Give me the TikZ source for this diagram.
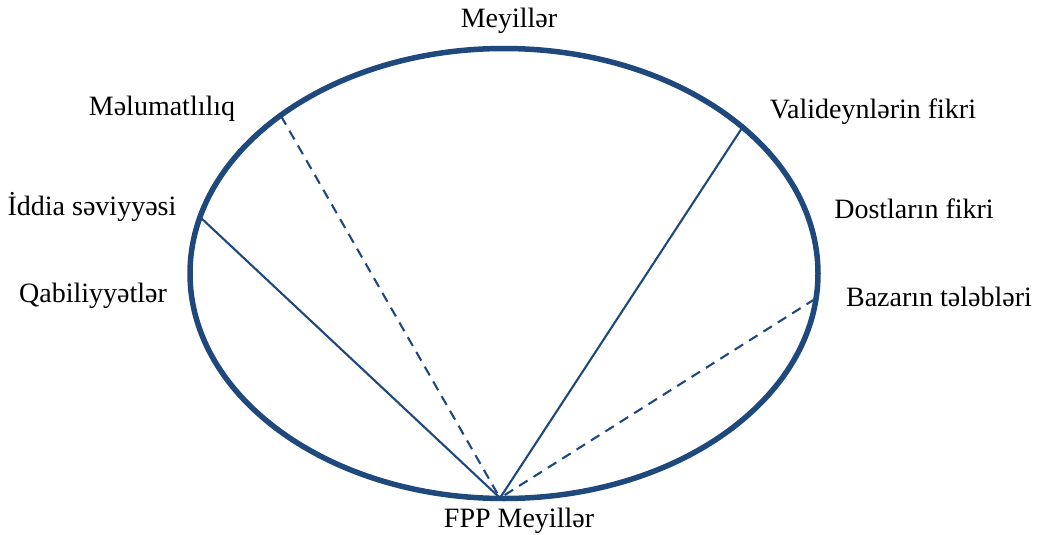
\documentclass[tikz,border=0pt]{standalone}
\usepackage{fontspec}
\setmainfont{Liberation Serif}
\definecolor{ellblue}{RGB}{31,73,125}
\begin{document}
\begin{tikzpicture}[x=1pt,y=-1pt,
  lbl/.style={inner sep=0pt, font=\fontsize{28}{32}\selectfont, text=black},
  ray/.style={draw=ellblue, line width=2.1pt},
  dray/.style={ray, dash pattern=on 10pt off 7pt}]
\useasboundingbox (0,0) rectangle (1037,535);
\draw[ellblue, line width=5.5pt] (504,273.5) ellipse [x radius=314, y radius=225];
\coordinate (B) at (500,498);
\coordinate (P1) at (281,116);
\coordinate (P2) at (200,217);
\coordinate (P3) at (742,128);
\coordinate (P4) at (815,299);
\draw[dray] (P1) -- (B);
\draw[ray] (B) -- (P2);
\draw[ray] (B) -- (P3);
\draw[dray] (P4) -- (B);
\node[lbl] (t1) at (509,21) {Meyillər};
\node[lbl] (t2) at (162,109) {Məlumatlılıq};
\node[lbl] (t3) at (92,207) {İddia səviyyəsi};
\node[lbl] (t4) at (93,296) {Qabiliyyətlər};
\node[lbl] (t5) at (873,112) {Valideynlərin fikri};
\node[lbl] (t6) at (914,209) {Dostların fikri};
\node[lbl] (t7) at (939,297) {Bazarın tələbləri};
\node[lbl] (t8) at (519,521) {FPP Meyillər};
\end{tikzpicture}
\end{document}
